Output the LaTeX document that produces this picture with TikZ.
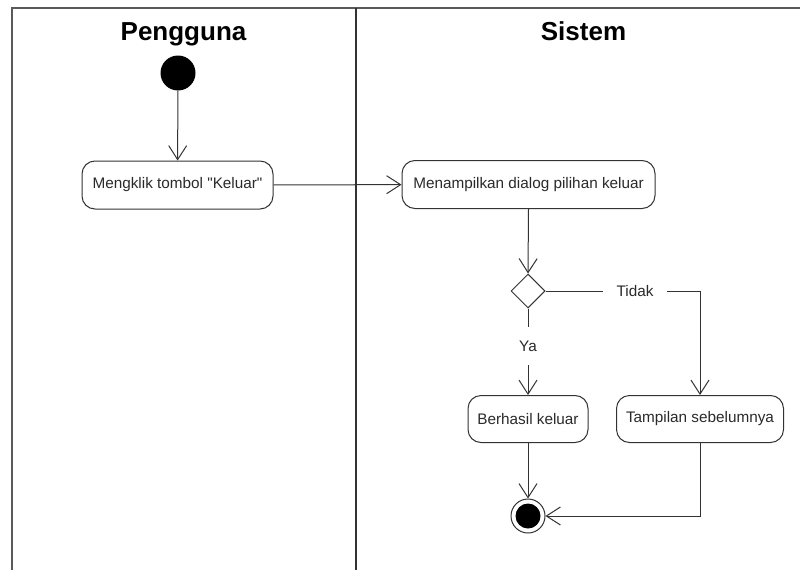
\documentclass[tikz,border=0pt]{standalone}
\usepackage{fontspec}
\setmainfont{Liberation Sans}
\usetikzlibrary{arrows.meta,shapes.geometric}
\definecolor{inkline}{HTML}{333333}
\definecolor{frameline}{HTML}{5A5A5A}
\definecolor{inktext}{HTML}{2A2A2A}
\begin{document}
\begin{tikzpicture}[x=1pt,y=1pt,
  lanehead/.style={font=\fontsize{26}{30}\selectfont\bfseries, text=black, inner sep=0pt, anchor=base},
  actbox/.style={draw=inkline, line width=1pt, rounded corners=13pt, fill=white,
    minimum height=48pt, inner sep=0pt, font=\fontsize{15.3}{18}\selectfont, text=inktext},
  guardtext/.style={font=\fontsize{15.3}{18}\selectfont, text=inktext, inner sep=0pt},
  flow/.style={draw=inkline, line width=1pt, -{Straight Barb[length=14pt,width=18pt,line width=1pt]}},
  plain/.style={draw=inkline, line width=1pt}
]
\useasboundingbox (0,0) rectangle (800,-570);
\fill[white] (0,0) rectangle (800,-570);

% swimlane frame
\draw[frameline, line width=2pt] (12,-570) -- (12,-8) -- (800,-8);
\draw[inkline, line width=2pt] (356,-8) -- (356,-570);
\node[lanehead] (hUser) at (183.5,-40) {Pengguna};
\node[lanehead] (hSys) at (583.5,-40) {Sistem};

% initial and final states
\node[circle, fill=black, minimum size=35pt, inner sep=0pt] (start) at (178,-73) {};
\node[circle, draw=inkline, line width=1pt, fill=white, minimum size=34pt, inner sep=0pt,
  path picture={\fill[black] (path picture bounding box.center) circle (12.5pt);}] (stop) at (528,-516) {};

% activities
\node[actbox, minimum width=191pt] (klik) at (177.5,-185) {Mengklik tombol \textquotedbl Keluar\textquotedbl};
\node[actbox, minimum width=253pt] (dialog) at (528.5,-184.5) {Menampilkan dialog pilihan keluar};
\node[actbox, minimum width=120pt, minimum height=47pt] (ok) at (528,-419) {Berhasil keluar};
\node[actbox, minimum width=167pt, minimum height=47pt] (back) at (700,-419) {Tampilan sebelumnya};

% decision
\node[diamond, draw=inkline, line width=1pt, fill=white, minimum width=34pt, minimum height=34pt,
  inner sep=0pt] (pick) at (528,-291) {};

% guard labels
\node[guardtext, minimum height=38pt] (ya) at (528,-346) {Ya};
\node[guardtext, minimum width=64pt] (tidak) at (635,-291) {Tidak};

% flows
\draw[flow] (start) -- (klik);
\draw[flow] (klik) -- (dialog);
\draw[flow] (dialog.south) -- (pick.north);
\draw[plain] (pick.south) -- (ya.north);
\draw[flow] (ya.south) -- (ok.north);
\draw[plain] (pick.east) -- (tidak.west);
\draw[flow] (tidak.east) -| (back.north);
\draw[flow] (ok.south) -- (stop.north);
\draw[flow] (back.south) |- (stop.east);
\end{tikzpicture}
\end{document}
